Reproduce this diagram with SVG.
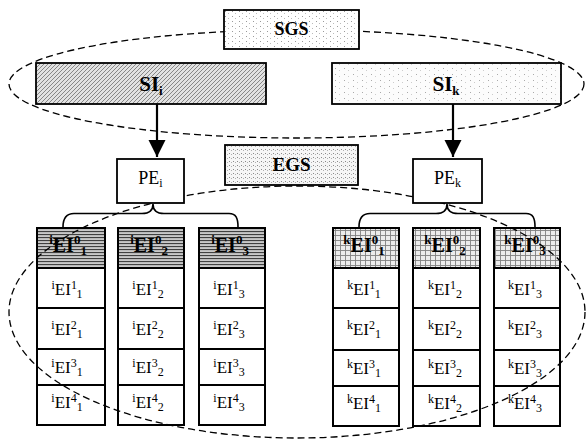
<svg xmlns="http://www.w3.org/2000/svg" width="587" height="441" viewBox="0 0 587 441">
<defs>
<style>
.bx{stroke:#000;stroke-width:1.8}
.cell{fill:#fff;stroke:#000;stroke-width:2}
.t{font-family:"Liberation Serif","Times New Roman",serif;font-size:17px;text-anchor:middle;fill:#000}
.h{font-family:"Liberation Serif","Times New Roman",serif;font-size:20px;font-weight:bold;text-anchor:middle;fill:#000}
.sm{font-size:12px}
.smb{font-size:13px}
.dash{fill:none;stroke:#000;stroke-width:1.3;stroke-dasharray:7 4}
.arr{stroke:#000;stroke-width:2.2;fill:none}
.br{stroke:#000;stroke-width:1.6;fill:none}
</style>
<pattern id="dotsA" width="7" height="5" patternUnits="userSpaceOnUse">
<rect width="7" height="5" fill="#fff"/><rect x="1" y="1" width="1" height="1" fill="#999"/><rect x="4" y="3" width="1" height="1" fill="#bbb"/>
</pattern>
<pattern id="dotsB" width="4" height="4" patternUnits="userSpaceOnUse">
<rect width="4" height="4" fill="#f6f6f6"/><rect x="1" y="1" width="1" height="1" fill="#8a8a8a"/><rect x="3" y="2" width="1" height="1" fill="#b0b0b0"/>
</pattern>
<pattern id="dotsC" width="9" height="6" patternUnits="userSpaceOnUse">
<rect width="9" height="6" fill="#fcfcfc"/><rect x="2" y="2" width="1" height="1" fill="#aaa"/><rect x="6" y="4" width="1" height="1" fill="#ccc"/>
</pattern>
<pattern id="diag" width="4" height="4" patternUnits="userSpaceOnUse">
<rect width="4" height="4" fill="#e2e2e2"/><path d="M-1,1 L1,-1 M0,4 L4,0 M3,5 L5,3" stroke="#707070" stroke-width="0.8"/>
</pattern>
<pattern id="hlines" width="4" height="3" patternUnits="userSpaceOnUse">
<rect width="4" height="3" fill="#c8c8c8"/><rect y="0" width="4" height="1.1" fill="#404040"/>
</pattern>
<pattern id="grid" width="5" height="5" patternUnits="userSpaceOnUse">
<rect width="5" height="5" fill="#ececec"/><path d="M0,0.5 H5 M0.5,0 V5" stroke="#808080" stroke-width="0.9"/>
</pattern>
<marker id="ah" markerUnits="userSpaceOnUse" markerWidth="18" markerHeight="18" refX="17" refY="8.5" orient="auto">
<path d="M0,0 L17,8.5 L0,17 z" fill="#000"/>
</marker>
</defs>
<rect width="587" height="441" fill="#fff"/>

<g id="group-outline-S">
<ellipse class="dash" cx="296.5" cy="84" rx="287.5" ry="54"/>
</g>

<g id="SGS">
<rect class="bx" x="224" y="10" width="135" height="39" fill="url(#dotsA)"/>
<text class="h" x="291.5" y="35" style="font-size:18px">SGS</text>
</g>

<g id="SIi">
<rect class="bx" x="36" y="63" width="230" height="41" fill="url(#diag)"/>
<text class="h" x="151" y="91" style="font-size:21px">SI<tspan class="smb" dy="4">i</tspan></text>
</g>

<g id="SIk">
<rect class="bx" x="332" y="63" width="229" height="41" fill="url(#dotsC)"/>
<text class="h" x="446" y="91" style="font-size:21px">SI<tspan class="smb" dy="4">k</tspan></text>
</g>

<g id="col-i1">
<rect class="cell" x="37" y="228" width="68" height="40" style="fill:url(#hlines)"/>
<text class="h" x="68" y="252"><tspan class="smb" dy="-8">i</tspan><tspan dy="8">EI</tspan><tspan class="smb" dy="-8">0</tspan><tspan class="smb" dy="11">1</tspan></text>
<rect class="cell" x="37" y="268" width="68" height="40"/>
<text class="t" x="67" y="295"><tspan class="sm" dy="-6">i</tspan><tspan dy="6">EI</tspan><tspan class="sm" dy="-6">1</tspan><tspan class="sm" dy="9">1</tspan></text>
<rect class="cell" x="37" y="308" width="68" height="41"/>
<text class="t" x="67" y="335"><tspan class="sm" dy="-6">i</tspan><tspan dy="6">EI</tspan><tspan class="sm" dy="-6">2</tspan><tspan class="sm" dy="9">1</tspan></text>
<rect class="cell" x="37" y="349" width="68" height="36"/>
<text class="t" x="67" y="373"><tspan class="sm" dy="-6">i</tspan><tspan dy="6">EI</tspan><tspan class="sm" dy="-6">3</tspan><tspan class="sm" dy="9">1</tspan></text>
<rect class="cell" x="37" y="385" width="68" height="40"/>
<text class="t" x="67" y="408"><tspan class="sm" dy="-6">i</tspan><tspan dy="6">EI</tspan><tspan class="sm" dy="-6">4</tspan><tspan class="sm" dy="9">1</tspan></text>
</g>

<g id="col-i2">
<rect class="cell" x="118" y="228" width="66" height="40" style="fill:url(#hlines)"/>
<text class="h" x="149" y="252"><tspan class="smb" dy="-8">i</tspan><tspan dy="8">EI</tspan><tspan class="smb" dy="-8">0</tspan><tspan class="smb" dy="11">2</tspan></text>
<rect class="cell" x="118" y="268" width="66" height="40"/>
<text class="t" x="148" y="295"><tspan class="sm" dy="-6">i</tspan><tspan dy="6">EI</tspan><tspan class="sm" dy="-6">1</tspan><tspan class="sm" dy="9">2</tspan></text>
<rect class="cell" x="118" y="308" width="66" height="41"/>
<text class="t" x="148" y="335"><tspan class="sm" dy="-6">i</tspan><tspan dy="6">EI</tspan><tspan class="sm" dy="-6">2</tspan><tspan class="sm" dy="9">2</tspan></text>
<rect class="cell" x="118" y="349" width="66" height="36"/>
<text class="t" x="148" y="373"><tspan class="sm" dy="-6">i</tspan><tspan dy="6">EI</tspan><tspan class="sm" dy="-6">3</tspan><tspan class="sm" dy="9">2</tspan></text>
<rect class="cell" x="118" y="385" width="66" height="40"/>
<text class="t" x="148" y="408"><tspan class="sm" dy="-6">i</tspan><tspan dy="6">EI</tspan><tspan class="sm" dy="-6">4</tspan><tspan class="sm" dy="9">2</tspan></text>
</g>

<g id="col-i3">
<rect class="cell" x="199" y="228" width="66" height="40" style="fill:url(#hlines)"/>
<text class="h" x="230" y="252"><tspan class="smb" dy="-8">i</tspan><tspan dy="8">EI</tspan><tspan class="smb" dy="-8">0</tspan><tspan class="smb" dy="11">3</tspan></text>
<rect class="cell" x="199" y="268" width="66" height="40"/>
<text class="t" x="229" y="295"><tspan class="sm" dy="-6">i</tspan><tspan dy="6">EI</tspan><tspan class="sm" dy="-6">1</tspan><tspan class="sm" dy="9">3</tspan></text>
<rect class="cell" x="199" y="308" width="66" height="41"/>
<text class="t" x="229" y="335"><tspan class="sm" dy="-6">i</tspan><tspan dy="6">EI</tspan><tspan class="sm" dy="-6">2</tspan><tspan class="sm" dy="9">3</tspan></text>
<rect class="cell" x="199" y="349" width="66" height="36"/>
<text class="t" x="229" y="373"><tspan class="sm" dy="-6">i</tspan><tspan dy="6">EI</tspan><tspan class="sm" dy="-6">3</tspan><tspan class="sm" dy="9">3</tspan></text>
<rect class="cell" x="199" y="385" width="66" height="40"/>
<text class="t" x="229" y="408"><tspan class="sm" dy="-6">i</tspan><tspan dy="6">EI</tspan><tspan class="sm" dy="-6">4</tspan><tspan class="sm" dy="9">3</tspan></text>
</g>

<g id="col-k1">
<rect class="cell" x="333" y="228" width="66" height="40" style="fill:url(#grid)"/>
<text class="h" x="364" y="252"><tspan class="smb" dy="-8">k</tspan><tspan dy="8">EI</tspan><tspan class="smb" dy="-8">0</tspan><tspan class="smb" dy="11">1</tspan></text>
<rect class="cell" x="333" y="268" width="66" height="40"/>
<text class="t" x="364" y="295"><tspan class="sm" dy="-6">k</tspan><tspan dy="6">EI</tspan><tspan class="sm" dy="-6">1</tspan><tspan class="sm" dy="9">1</tspan></text>
<rect class="cell" x="333" y="308" width="66" height="42"/>
<text class="t" x="364" y="335"><tspan class="sm" dy="-6">k</tspan><tspan dy="6">EI</tspan><tspan class="sm" dy="-6">2</tspan><tspan class="sm" dy="9">1</tspan></text>
<rect class="cell" x="333" y="350" width="66" height="36"/>
<text class="t" x="364" y="374"><tspan class="sm" dy="-6">k</tspan><tspan dy="6">EI</tspan><tspan class="sm" dy="-6">3</tspan><tspan class="sm" dy="9">1</tspan></text>
<rect class="cell" x="333" y="386" width="66" height="40"/>
<text class="t" x="364" y="409"><tspan class="sm" dy="-6">k</tspan><tspan dy="6">EI</tspan><tspan class="sm" dy="-6">4</tspan><tspan class="sm" dy="9">1</tspan></text>
</g>

<g id="col-k2">
<rect class="cell" x="413" y="228" width="67" height="40" style="fill:url(#grid)"/>
<text class="h" x="445" y="252"><tspan class="smb" dy="-8">k</tspan><tspan dy="8">EI</tspan><tspan class="smb" dy="-8">0</tspan><tspan class="smb" dy="11">2</tspan></text>
<rect class="cell" x="413" y="268" width="67" height="40"/>
<text class="t" x="445" y="295"><tspan class="sm" dy="-6">k</tspan><tspan dy="6">EI</tspan><tspan class="sm" dy="-6">1</tspan><tspan class="sm" dy="9">2</tspan></text>
<rect class="cell" x="413" y="308" width="67" height="42"/>
<text class="t" x="445" y="335"><tspan class="sm" dy="-6">k</tspan><tspan dy="6">EI</tspan><tspan class="sm" dy="-6">2</tspan><tspan class="sm" dy="9">2</tspan></text>
<rect class="cell" x="413" y="350" width="67" height="36"/>
<text class="t" x="445" y="374"><tspan class="sm" dy="-6">k</tspan><tspan dy="6">EI</tspan><tspan class="sm" dy="-6">3</tspan><tspan class="sm" dy="9">2</tspan></text>
<rect class="cell" x="413" y="386" width="67" height="40"/>
<text class="t" x="445" y="409"><tspan class="sm" dy="-6">k</tspan><tspan dy="6">EI</tspan><tspan class="sm" dy="-6">4</tspan><tspan class="sm" dy="9">2</tspan></text>
</g>

<g id="col-k3">
<rect class="cell" x="494" y="228" width="66" height="40" style="fill:url(#grid)"/>
<text class="h" x="525" y="252"><tspan class="smb" dy="-8">k</tspan><tspan dy="8">EI</tspan><tspan class="smb" dy="-8">0</tspan><tspan class="smb" dy="11">3</tspan></text>
<rect class="cell" x="494" y="268" width="66" height="40"/>
<text class="t" x="525" y="295"><tspan class="sm" dy="-6">k</tspan><tspan dy="6">EI</tspan><tspan class="sm" dy="-6">1</tspan><tspan class="sm" dy="9">3</tspan></text>
<rect class="cell" x="494" y="308" width="66" height="42"/>
<text class="t" x="525" y="335"><tspan class="sm" dy="-6">k</tspan><tspan dy="6">EI</tspan><tspan class="sm" dy="-6">2</tspan><tspan class="sm" dy="9">3</tspan></text>
<rect class="cell" x="494" y="350" width="66" height="36"/>
<text class="t" x="525" y="374"><tspan class="sm" dy="-6">k</tspan><tspan dy="6">EI</tspan><tspan class="sm" dy="-6">3</tspan><tspan class="sm" dy="9">3</tspan></text>
<rect class="cell" x="494" y="386" width="66" height="40"/>
<text class="t" x="525" y="409"><tspan class="sm" dy="-6">k</tspan><tspan dy="6">EI</tspan><tspan class="sm" dy="-6">4</tspan><tspan class="sm" dy="9">3</tspan></text>
</g>

<g id="group-outline-E">
<ellipse class="dash" cx="297" cy="312" rx="288" ry="126"/>
</g>

<g id="connectors">
<line class="arr" x1="157" y1="104" x2="157" y2="157" marker-end="url(#ah)"/>
<line class="arr" x1="453" y1="104" x2="453" y2="157" marker-end="url(#ah)"/>
<path class="br" d="M63,227 C63,218 66,213.5 74,213.5 L142,213.5 C149,213.5 153,210 153,204 C153,210 157,213.5 164,213.5 L229,213.5 C236,213.5 238,218 238,227"/>
<path class="br" d="M359,227 C359,218 362,213.5 370,213.5 L436,213.5 C443,213.5 447,210 447,204 C447,210 451,213.5 458,213.5 L526,213.5 C533,213.5 535,218 535,227"/>
</g>

<g id="PEi">
<rect class="bx" x="117" y="159" width="67" height="44" fill="#fff"/>
<text class="t" x="150.5" y="184" style="font-size:18px">PE<tspan class="sm" dy="3">i</tspan></text>
</g>

<g id="PEk">
<rect class="bx" x="413" y="159" width="69" height="44" fill="#fff"/>
<text class="t" x="447.5" y="184" style="font-size:18px">PE<tspan class="sm" dy="3">k</tspan></text>
</g>

<g id="EGS">
<rect class="bx" x="225" y="145" width="133" height="40" fill="url(#dotsB)"/>
<text class="h" x="291.5" y="171" style="font-size:19px">EGS</text>
</g>
</svg>
